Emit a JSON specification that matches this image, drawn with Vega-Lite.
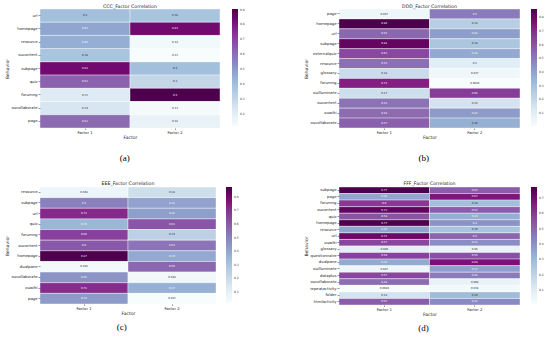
{
"$schema": "https://vega.github.io/schema/vega-lite/v6.json",
"padding": {"left": 4, "top": 3, "right": 0, "bottom": 0},
"background": "white",
"datasets": {
"a": [
{"behavior":"url","factor":"Factor 1","value":0.4},{"behavior":"url","factor":"Factor 2","value":0.38},
{"behavior":"homepage","factor":"Factor 1","value":0.47},{"behavior":"homepage","factor":"Factor 2","value":0.83},
{"behavior":"resource","factor":"Factor 1","value":0.45},{"behavior":"resource","factor":"Factor 2","value":0.14},
{"behavior":"oucontent","factor":"Factor 1","value":0.38},{"behavior":"oucontent","factor":"Factor 2","value":0.12},
{"behavior":"subpage","factor":"Factor 1","value":0.83},{"behavior":"subpage","factor":"Factor 2","value":0.4},
{"behavior":"quiz","factor":"Factor 1","value":0.63},{"behavior":"quiz","factor":"Factor 2","value":0.3},
{"behavior":"forumng","factor":"Factor 1","value":0.22},{"behavior":"forumng","factor":"Factor 2","value":0.9},
{"behavior":"oucollaborate","factor":"Factor 1","value":0.24},{"behavior":"oucollaborate","factor":"Factor 2","value":0.13},
{"behavior":"page","factor":"Factor 1","value":0.61},{"behavior":"page","factor":"Factor 2","value":0.18}
],
"b": [
{"behavior":"page","factor":"Factor 1","value":0.047},{"behavior":"page","factor":"Factor 2","value":0.5},
{"behavior":"homepage","factor":"Factor 1","value":0.86},{"behavior":"homepage","factor":"Factor 2","value":0.24},
{"behavior":"url","factor":"Factor 1","value":0.55},{"behavior":"url","factor":"Factor 2","value":0.41},
{"behavior":"subpage","factor":"Factor 1","value":0.81},{"behavior":"subpage","factor":"Factor 2","value":0.28},
{"behavior":"externalquiz","factor":"Factor 1","value":0.63},{"behavior":"externalquiz","factor":"Factor 2","value":0.38},
{"behavior":"resource","factor":"Factor 1","value":0.53},{"behavior":"resource","factor":"Factor 2","value":0.1},
{"behavior":"glossary","factor":"Factor 1","value":0.18},{"behavior":"glossary","factor":"Factor 2","value":0.037},
{"behavior":"forumng","factor":"Factor 1","value":0.73},{"behavior":"forumng","factor":"Factor 2","value":0.0046},
{"behavior":"ouilluminate","factor":"Factor 1","value":0.17},{"behavior":"ouilluminate","factor":"Factor 2","value":0.66},
{"behavior":"oucontent","factor":"Factor 1","value":0.52},{"behavior":"oucontent","factor":"Factor 2","value":0.15},
{"behavior":"ouwiki","factor":"Factor 1","value":0.54},{"behavior":"ouwiki","factor":"Factor 2","value":0.42},
{"behavior":"oucollaborate","factor":"Factor 1","value":0.57},{"behavior":"oucollaborate","factor":"Factor 2","value":0.36}
],
"c": [
{"behavior":"resource","factor":"Factor 1","value":0.064},{"behavior":"resource","factor":"Factor 2","value":0.18},
{"behavior":"subpage","factor":"Factor 1","value":0.5},{"behavior":"subpage","factor":"Factor 2","value":0.41},
{"behavior":"url","factor":"Factor 1","value":0.72},{"behavior":"url","factor":"Factor 2","value":0.42},
{"behavior":"quiz","factor":"Factor 1","value":0.35},{"behavior":"quiz","factor":"Factor 2","value":0.61},
{"behavior":"forumng","factor":"Factor 1","value":0.66},{"behavior":"forumng","factor":"Factor 2","value":0.24},
{"behavior":"oucontent","factor":"Factor 1","value":0.6},{"behavior":"oucontent","factor":"Factor 2","value":0.53},
{"behavior":"homepage","factor":"Factor 1","value":0.87},{"behavior":"homepage","factor":"Factor 2","value":0.39},
{"behavior":"dualpane","factor":"Factor 1","value":0.038},{"behavior":"dualpane","factor":"Factor 2","value":0.56},
{"behavior":"oucollaborate","factor":"Factor 1","value":0.45},{"behavior":"oucollaborate","factor":"Factor 2","value":0.044},
{"behavior":"ouwiki","factor":"Factor 1","value":0.71},{"behavior":"ouwiki","factor":"Factor 2","value":0.37},
{"behavior":"page","factor":"Factor 1","value":0.43},{"behavior":"page","factor":"Factor 2","value":0.017}
],
"d": [
{"behavior":"subpage","factor":"Factor 1","value":0.77},{"behavior":"subpage","factor":"Factor 2","value":0.52},
{"behavior":"page","factor":"Factor 1","value":0.35},{"behavior":"page","factor":"Factor 2","value":0.67},
{"behavior":"forumng","factor":"Factor 1","value":0.6},{"behavior":"forumng","factor":"Factor 2","value":0.28},
{"behavior":"oucontent","factor":"Factor 1","value":0.73},{"behavior":"oucontent","factor":"Factor 2","value":0.52},
{"behavior":"quiz","factor":"Factor 1","value":0.54},{"behavior":"quiz","factor":"Factor 2","value":0.33},
{"behavior":"homepage","factor":"Factor 1","value":0.77},{"behavior":"homepage","factor":"Factor 2","value":0.4},
{"behavior":"resource","factor":"Factor 1","value":0.35},{"behavior":"resource","factor":"Factor 2","value":0.26},
{"behavior":"url","factor":"Factor 1","value":0.71},{"behavior":"url","factor":"Factor 2","value":0.5},
{"behavior":"ouwiki","factor":"Factor 1","value":0.57},{"behavior":"ouwiki","factor":"Factor 2","value":0.41},
{"behavior":"glossary","factor":"Factor 1","value":0.089},{"behavior":"glossary","factor":"Factor 2","value":0.06},
{"behavior":"questionnaire","factor":"Factor 1","value":0.58},{"behavior":"questionnaire","factor":"Factor 2","value":0.55},
{"behavior":"dualpane","factor":"Factor 1","value":0.34},{"behavior":"dualpane","factor":"Factor 2","value":0.68},
{"behavior":"ouilluminate","factor":"Factor 1","value":0.047},{"behavior":"ouilluminate","factor":"Factor 2","value":0.37},
{"behavior":"dataplus","factor":"Factor 1","value":0.57},{"behavior":"dataplus","factor":"Factor 2","value":0.45},
{"behavior":"oucollaborate","factor":"Factor 1","value":0.48},{"behavior":"oucollaborate","factor":"Factor 2","value":0.068},
{"behavior":"repeatactivity","factor":"Factor 1","value":0.0089},{"behavior":"repeatactivity","factor":"Factor 2","value":0.028},
{"behavior":"folder","factor":"Factor 1","value":0.14},{"behavior":"folder","factor":"Factor 2","value":0.29},
{"behavior":"htmlactivity","factor":"Factor 1","value":0.52},{"behavior":"htmlactivity","factor":"Factor 2","value":0.42}
]
},
"columns": 2,
"spacing": {"column": 58, "row": 17},
"resolve": {"scale": {"color": "independent"}, "legend": {"color": "independent"}},
"concat": [
{"title": {"text": "(a)", "orient": "bottom", "anchor": "middle", "offset": 15, "fontSize": 9, "font": "Liberation Serif", "color": "#000"},
 "resolve": {"scale": {"color": "independent"}, "legend": {"color": "independent"}},
 "vconcat": [{
 "width": 180, "height": 119,
 "title": {"text": "CCC_Factor Correlation", "offset": 0.5},
 "data": {"name": "a"},
 "encoding": {
  "x": {"field": "factor", "type": "nominal", "axis": {"title": "Factor", "labelAngle": 0}},
  "y": {"field": "behavior", "type": "nominal", "sort": null, "axis": {"title": "Behavior"}}
 },
 "layer": [
  {"mark": {"type": "rect", "stroke": "white", "strokeWidth": 0.4},
   "encoding": {"color": {"field": "value", "type": "quantitative",
     "scale": {"domain": [0.12,0.2175,0.315,0.4125,0.51,0.6075,0.705,0.8025,0.9], "range": ["#f7fcfd","#e0ecf4","#bfd3e6","#9ebcda","#8c96c6","#8c6bb1","#88419d","#810f7c","#4d004b"]},
     "legend": {"title": null, "values": [0.2,0.3,0.4,0.5,0.6,0.7,0.8,0.9], "gradientLength": 117, "offset": 12}}}},
  {"mark": {"type": "text", "fontSize": 2.6},
   "encoding": {"text": {"field": "value", "type": "quantitative", "format": ".2~r"},
    "color": {"condition": {"test": "datum.value > 0.44", "value": "white"}, "value": "#222"}}}
 ]}]},
{"title": {"text": "(b)", "orient": "bottom", "anchor": "middle", "offset": 15, "fontSize": 9, "font": "Liberation Serif", "color": "#000"},
 "resolve": {"scale": {"color": "independent"}, "legend": {"color": "independent"}},
 "vconcat": [{
 "width": 181, "height": 119,
 "title": {"text": "DDD_Factor Correlation", "offset": 0.5},
 "data": {"name": "b"},
 "encoding": {
  "x": {"field": "factor", "type": "nominal", "axis": {"title": "Factor", "labelAngle": 0}},
  "y": {"field": "behavior", "type": "nominal", "sort": null, "axis": {"title": "Behavior"}}
 },
 "layer": [
  {"mark": {"type": "rect", "stroke": "white", "strokeWidth": 0.4},
   "encoding": {"color": {"field": "value", "type": "quantitative",
     "scale": {"domain": [0.0046,0.1115,0.2184,0.3254,0.4323,0.5392,0.6462,0.7531,0.86], "range": ["#f7fcfd","#e0ecf4","#bfd3e6","#9ebcda","#8c96c6","#8c6bb1","#88419d","#810f7c","#4d004b"]},
     "legend": {"title": null, "values": [0.1,0.2,0.3,0.4,0.5,0.6,0.7,0.8], "gradientLength": 117, "offset": 11}}}},
  {"mark": {"type": "text", "fontSize": 2.6},
   "encoding": {"text": {"field": "value", "type": "quantitative", "format": ".2~r"},
    "color": {"condition": {"test": "datum.value > 0.37", "value": "white"}, "value": "#222"}}}
 ]}]},
{"title": {"text": "(c)", "orient": "bottom", "anchor": "middle", "offset": 8, "fontSize": 9, "font": "Liberation Serif", "color": "#000"},
 "resolve": {"scale": {"color": "independent"}, "legend": {"color": "independent"}},
 "vconcat": [{
 "width": 176, "height": 117,
 "title": {"text": "EEE_Factor Correlation", "offset": 1},
 "data": {"name": "c"},
 "encoding": {
  "x": {"field": "factor", "type": "nominal", "axis": {"title": "Factor", "labelAngle": 0}},
  "y": {"field": "behavior", "type": "nominal", "sort": null, "axis": {"title": "Behavior"}}
 },
 "layer": [
  {"mark": {"type": "rect", "stroke": "white", "strokeWidth": 0.4},
   "encoding": {"color": {"field": "value", "type": "quantitative",
     "scale": {"domain": [0.017,0.1236,0.2303,0.3369,0.4435,0.5501,0.6568,0.7634,0.87], "range": ["#f7fcfd","#e0ecf4","#bfd3e6","#9ebcda","#8c96c6","#8c6bb1","#88419d","#810f7c","#4d004b"]},
     "legend": {"title": null, "values": [0.1,0.2,0.3,0.4,0.5,0.6,0.7,0.8], "gradientLength": 116, "offset": 10}}}},
  {"mark": {"type": "text", "fontSize": 2.6},
   "encoding": {"text": {"field": "value", "type": "quantitative", "format": ".2~r"},
    "color": {"condition": {"test": "datum.value > 0.34", "value": "white"}, "value": "#222"}}}
 ]}]},
{"title": {"text": "(d)", "orient": "bottom", "anchor": "middle", "offset": 8, "fontSize": 9, "font": "Liberation Serif", "color": "#000"},
 "resolve": {"scale": {"color": "independent"}, "legend": {"color": "independent"}},
 "vconcat": [{
 "width": 181, "height": 118,
 "title": {"text": "FFF_Factor Correlation", "offset": 1},
 "data": {"name": "d"},
 "encoding": {
  "x": {"field": "factor", "type": "nominal", "axis": {"title": "Factor", "labelAngle": 0}},
  "y": {"field": "behavior", "type": "nominal", "sort": null, "axis": {"title": "Behavior"}}
 },
 "layer": [
  {"mark": {"type": "rect", "stroke": "white", "strokeWidth": 0.4},
   "encoding": {"color": {"field": "value", "type": "quantitative",
     "scale": {"domain": [0.0089,0.104,0.1992,0.2943,0.3895,0.4846,0.5797,0.6749,0.77], "range": ["#f7fcfd","#e0ecf4","#bfd3e6","#9ebcda","#8c96c6","#8c6bb1","#88419d","#810f7c","#4d004b"]},
     "legend": {"title": null, "values": [0.1,0.2,0.3,0.4,0.5,0.6,0.7], "gradientLength": 117, "offset": 11}}}},
  {"mark": {"type": "text", "fontSize": 2.6},
   "encoding": {"text": {"field": "value", "type": "quantitative", "format": ".2~r"},
    "color": {"condition": {"test": "datum.value > 0.32", "value": "white"}, "value": "#222"}}}
 ]}]}
],
"config": {
 "font": "DejaVu Sans",
 "view": {"stroke": null},
 "axis": {"domain": false, "tickWidth": 0.5, "tickColor": "#333", "labelFontSize": 3.8, "labelColor": "#222", "titleFontSize": 4.5, "titleFontWeight": "normal", "titleColor": "#222"},
 "axisY": {"tickSize": 2, "labelPadding": 1, "titlePadding": 1.5},
 "axisX": {"tickSize": 1.5, "labelPadding": 0.5, "titlePadding": 1},
 "legend": {"gradientThickness": 6, "labelFontSize": 3, "labelColor": "#333", "gradientStrokeWidth": 0, "labelOffset": 2},
 "title": {"fontSize": 4.7, "fontWeight": "normal", "color": "#222"}
}
}
